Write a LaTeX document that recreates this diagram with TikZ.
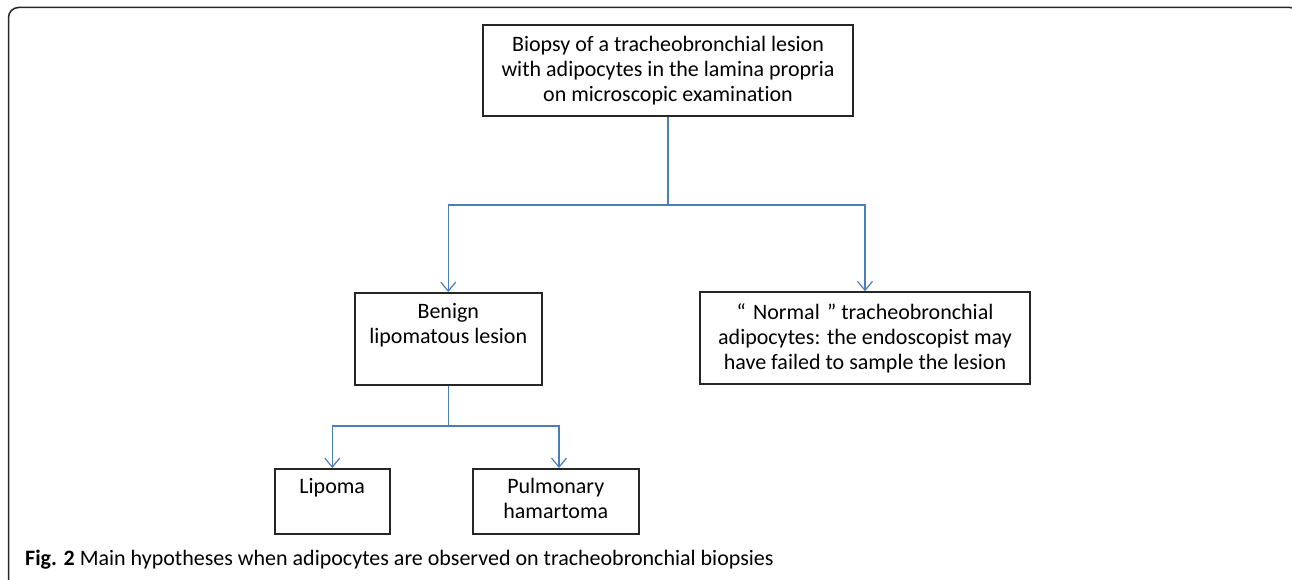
\documentclass[tikz,border=0pt]{standalone}
\usepackage{fontspec}
\setmainfont{Carlito}[Ligatures={NoCommon,TeX}]
\usetikzlibrary{arrows.meta}
\definecolor{linkblue}{HTML}{4A7EBB}
\definecolor{boxline}{HTML}{262626}
\tikzset{
  box/.style={draw=boxline, line width=1.5pt, fill=white, inner sep=0pt, align=center,
    font=\fontsize{22}{25}\selectfont},
  link/.style={draw=linkblue, line width=1.3pt},
  arr/.style={link, -{Straight Barb[length=9pt,width=15pt,line width=1.2pt]}},
}
\begin{document}
\begin{tikzpicture}[x=1pt,y=-1pt]
\useasboundingbox (0,0) rectangle (1292,580);
\draw[boxline, line width=1.5pt, rounded corners=10pt] (8.5,7.5) rectangle (1300,590);

\node[box, minimum width=370pt, minimum height=91pt] (top) at (668,70.5)
  {Biopsy of a tracheobronchial lesion\\with adipocytes in the lamina propria\\on microscopic examination};

\node[box, anchor=north west] (benign) at (354,292)
  {\parbox[t][92pt][t]{187pt}{\centering\rule{0pt}{26pt}Benign\\lipomatous lesion}};

\node[box, minimum width=330pt, minimum height=92pt] (normal) at (865,338)
  {``\,\,Normal\,\,'' tracheobronchial\\adipocytes: the endoscopist may\\have failed to sample the lesion};

\node[box, anchor=north west] (lipoma) at (274,468)
  {\parbox[t][65pt][t]{115pt}{\centering\rule{0pt}{25pt}Lipoma}};

\node[box, anchor=north west] (pulm) at (472,468)
  {\parbox[t][65pt][t]{166pt}{\centering\rule{0pt}{25pt}Pulmonary\\hamartoma}};

\coordinate (j1) at (668,205);
\coordinate (j2) at (benign.south |- 0,426);
\coordinate (pin) at (559,468);

\draw[link] (top.south) -- (j1);
\draw[arr] (j1) -| (benign.north);
\draw[arr] (j1) -| (normal.north);
\draw[link] (benign.south) -- (j2);
\draw[arr] (j2) -| (lipoma.north);
\draw[arr] (j2) -| (pin);

\node[anchor=base west, inner sep=0pt, font=\fontsize{22}{26}\selectfont] (cap) at (25,565.5)
  {\textbf{Fig. 2} Main hypotheses when adipocytes are observed on tracheobronchial biopsies};
\end{tikzpicture}
\end{document}
